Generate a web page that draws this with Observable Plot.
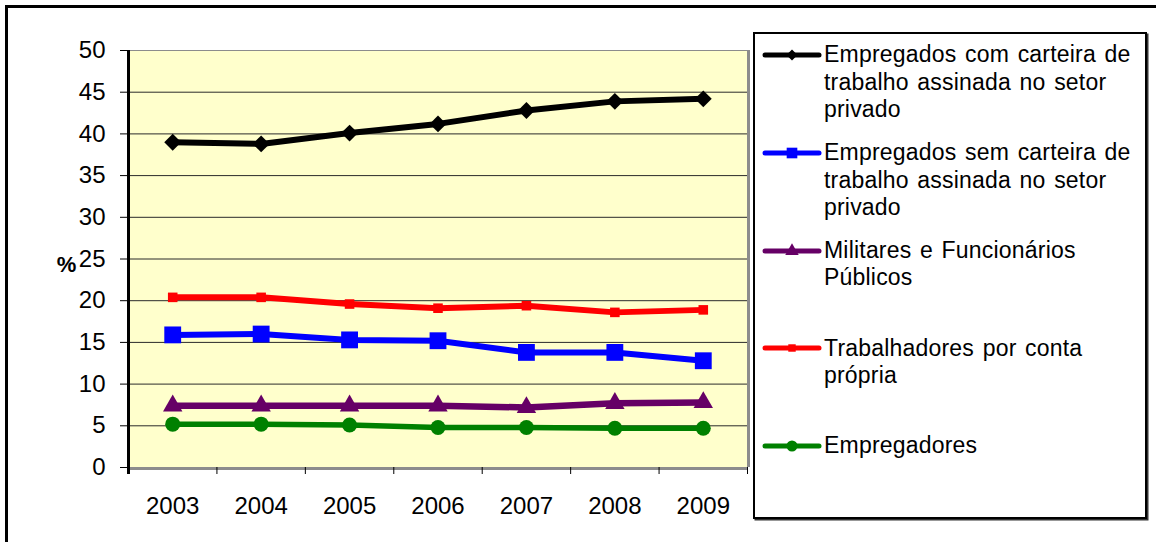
<!DOCTYPE html>
<html>
<head>
<meta charset="utf-8">
<script src="https://cdn.jsdelivr.net/npm/d3@7"></script>
<script src="https://cdn.jsdelivr.net/npm/@observablehq/plot@0.6"></script>
<style>
  html, body { margin: 0; padding: 0; background: #fff; overflow: hidden; width: 1156px; height: 542px; }
  body { position: relative; font-family: "Liberation Sans", Arial, sans-serif; color: #000; }
  #frame { position: absolute; left: 5px; top: 5px; width: 1200px; height: 600px;
           border-left: 3px solid #000; border-top: 3px solid #000; }
  #chart { position: absolute; left: 0; top: 0; }
  #legend { position: absolute; left: 753px; top: 32px; width: 390px; height: 483px;
            border: 2px solid #000; box-shadow: 1.5px 1.5px 0 #333; background: #fff; }
  .entry { position: absolute; left: 0; width: 100%; }
  .entry svg { position: absolute; left: 7px; top: 3.75px; }
  .entry .label { position: absolute; left: 69px; top: 0; white-space: pre; font-size: 23px;
                  line-height: 27.5px; letter-spacing: 0.2px; word-spacing: 2px; }
</style>
</head>
<body>
<div id="frame"></div>
<div id="chart"></div>
<div id="legend"></div>
<script>
// Categories and tick labels
const years = [2003, 2004, 2005, 2006, 2007, 2008, 2009];
const yTicks = [0, 5, 10, 15, 20, 25, 30, 35, 40, 45, 50];

// Series names (legend text, line breaks as shown)
const seriesNames = [
  "Empregados com carteira de\ntrabalho assinada no setor\nprivado",
  "Empregados sem carteira de\ntrabalho assinada no setor\nprivado",
  "Militares e Funcionários\nPúblicos",
  "Trabalhadores por conta\nprópria",
  "Empregadores"
];

// Share of the employed population, %
const comCarteira  = [39.0, 38.8, 40.1, 41.2, 42.8, 43.9, 44.2];
const semCarteira  = [15.9, 16.0, 15.3, 15.2, 13.8, 13.8, 12.8];
const militares    = [7.4, 7.4, 7.4, 7.4, 7.2, 7.7, 7.8];
const contaPropria = [20.4, 20.4, 19.6, 19.1, 19.4, 18.6, 18.9];
const empregadores = [5.2, 5.2, 5.1, 4.8, 4.8, 4.7, 4.7];

const seriesValues = [comCarteira, semCarteira, militares, contaPropria, empregadores];

// Line and marker styling per series
const styles = [
  {color: "#000000", symbol: "diamond2", r: 7.6, width: 6,   legendR: 5},
  {color: "#0000ff", symbol: "square",   r: 9.5, width: 6,   legendR: 6},
  {color: "#660066", symbol: "triangle", r: 7.2, width: 6.5, legendR: 5},
  {color: "#ff0000", symbol: "square",   r: 5.4, width: 6,   legendR: 4.2},
  {color: "#008000", symbol: "circle",   r: 7.5, width: 5.5, legendR: 5.5}
];

const rows = seriesNames.flatMap((name, i) =>
  years.map((year, j) => ({series: name, index: i, year, value: seriesValues[i][j]}))
);

// Category boundaries for the x tick marks
const boundaries = years.map(y => y - 0.5).concat([years[years.length - 1] + 0.5]);
const xMin = boundaries[0], xMax = boundaries[boundaries.length - 1];

const seriesMarks = seriesNames.flatMap((name, i) => {
  const data = rows.filter(d => d.index === i);
  const s = styles[i];
  return [
    Plot.line(data, {x: "year", y: "value", stroke: s.color, strokeWidth: s.width, strokeLinejoin: "round"}),
    Plot.dot(data, {x: "year", y: "value", symbol: s.symbol, r: s.r, fill: s.color, stroke: "none"})
  ];
});

const chart = Plot.plot({
  width: 760,
  height: 542,
  marginLeft: 128,
  marginTop: 50,
  marginRight: 13,
  marginBottom: 75,
  style: {fontFamily: "'Liberation Sans', Arial, sans-serif", fontSize: "24px", color: "#000", background: "transparent", overflow: "visible"},
  x: {domain: [xMin, xMax]},
  y: {domain: [0, 50]},
  marks: [
    Plot.frame({fill: "#ffffcc"}),
    Plot.ruleY(yTicks, {stroke: "#2a2a2a", strokeWidth: 1}),
    Plot.frame({stroke: "#8c8c8c", strokeWidth: 1}),
    Plot.ruleX([xMax], {stroke: "#8c8c8c", strokeWidth: 3, dx: 1}),
    Plot.ruleY([0], {stroke: "#8c8c8c", strokeWidth: 3, dy: 1}),
    Plot.axisY({ticks: yTicks, tickSize: 8, tickPadding: 15, label: null, fontSize: 24}),
    Plot.axisX({ticks: boundaries, tickSize: 7, tickFormat: () => "", label: null}),
    Plot.axisX({ticks: years, tickSize: 0, tickPadding: 29, tickFormat: d => String(d), label: null, fontSize: 24}),
    Plot.ruleX([xMin], {stroke: "#000", strokeWidth: 3, insetBottom: -7}),
    Plot.text(["%"], {frameAnchor: "left", y: 25, dx: -62, dy: 6, fontWeight: "bold", fontSize: 22, textAnchor: "middle"}),
    ...seriesMarks
  ]
});
document.getElementById("chart").append(chart);

// Legend: line sample with marker, then the wrapped series name
const legend = d3.select("#legend");
seriesNames.forEach((name, i) => {
  const s = styles[i];
  const entry = legend.append("div").attr("class", "entry").style("top", (7.25 + i * 97.75) + "px");
  const svg = entry.append("svg").attr("width", 60).attr("height", 20);
  svg.append("line").attr("x1", 3).attr("x2", 57).attr("y1", 10).attr("y2", 10)
    .attr("stroke", s.color).attr("stroke-width", 5).attr("stroke-linecap", "round");
  const symbolType = {diamond2: d3.symbolDiamond2, square: d3.symbolSquare, triangle: d3.symbolTriangle, circle: d3.symbolCircle}[s.symbol];
  svg.append("path").attr("transform", "translate(30,10)")
    .attr("d", d3.symbol(symbolType, Math.PI * s.legendR * s.legendR)())
    .attr("fill", s.color);
  entry.append("div").attr("class", "label").text(name);
});
</script>
</body>
</html>
